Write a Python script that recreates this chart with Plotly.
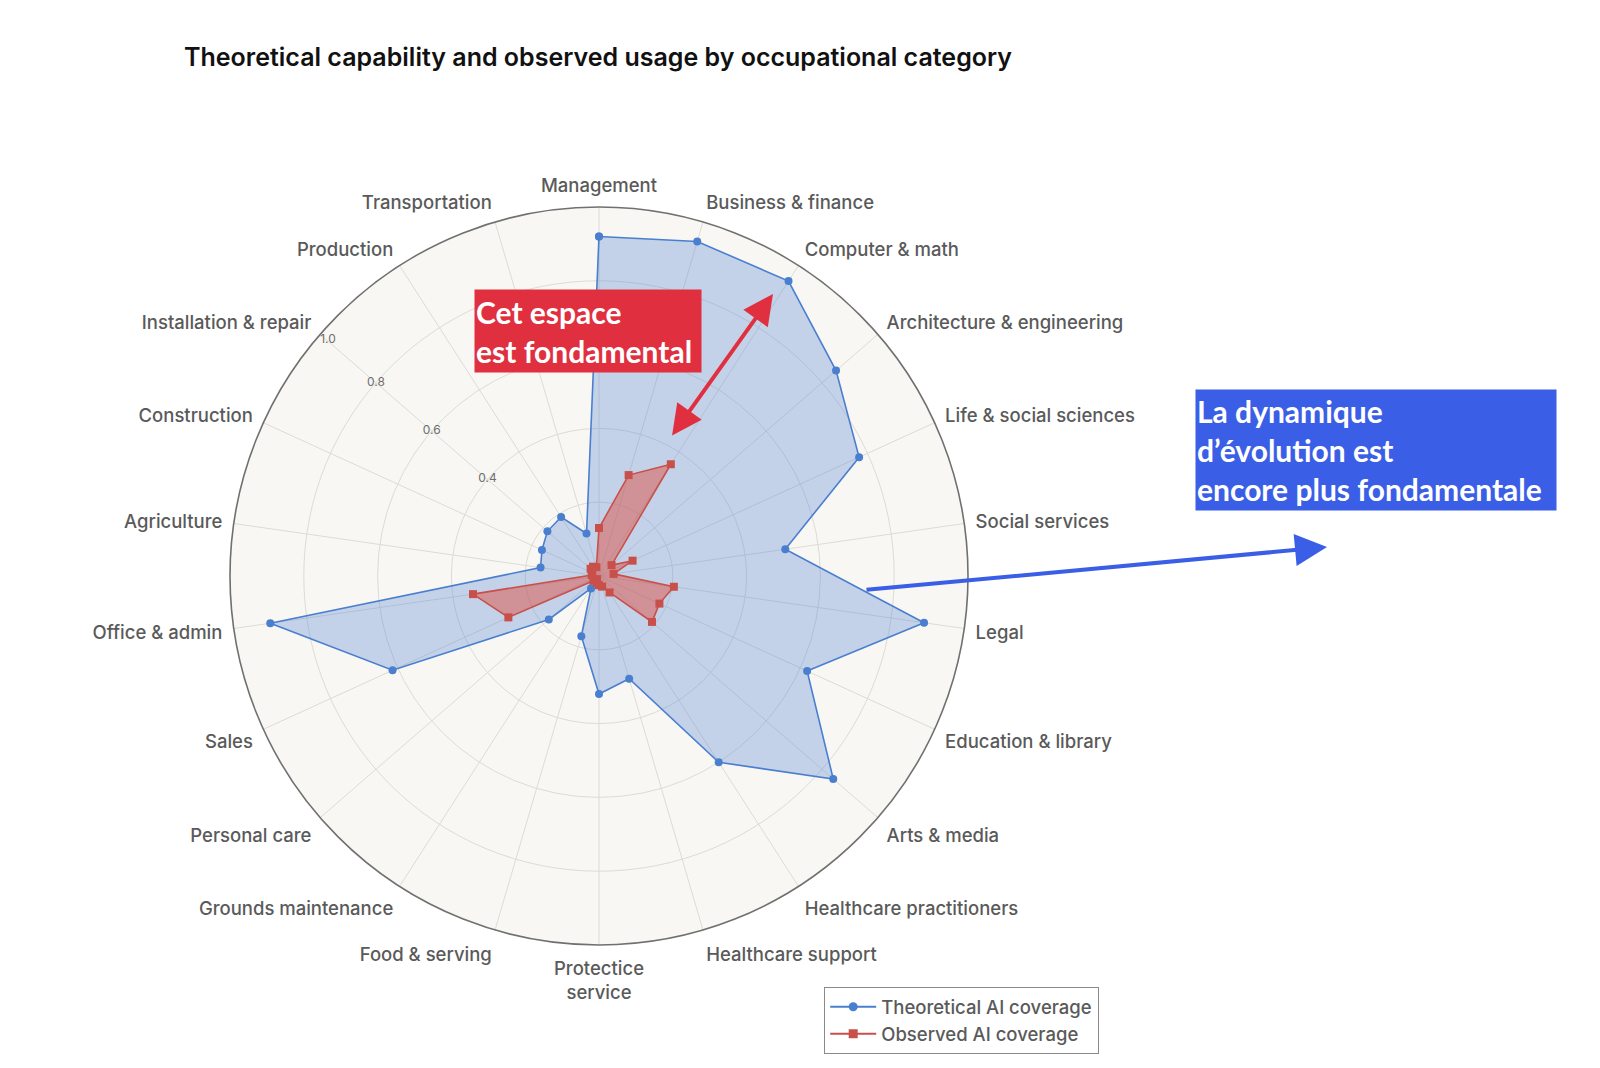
import plotly.graph_objects as go

categories = [
    "Management", "Business & finance", "Computer & math", "Architecture & engineering",
    "Life & social sciences", "Social services", "Legal", "Education & library",
    "Arts & media", "Healthcare practitioners", "Healthcare support", "Protectice<br>service",
    "Food & serving", "Grounds maintenance", "Personal care", "Sales", "Office & admin",
    "Agriculture", "Construction", "Installation & repair", "Production", "Transportation",
]

theoretical = [0.92, 0.945, 0.95, 0.85, 0.775, 0.51, 0.89, 0.62, 0.84, 0.60, 0.29, 0.32,
               0.17, 0.04, 0.18, 0.615, 0.90, 0.16, 0.17, 0.185, 0.19, 0.12]
observed = [0.13, 0.285, 0.36, 0.045, 0.10, 0.04, 0.205, 0.18, 0.19, 0.053, 0.03, 0.025,
            0.02, 0.01, 0.02, 0.27, 0.345, 0.02, 0.02, 0.03, 0.03, 0.025]

radial_ticks = [0.2, 0.4, 0.6, 0.8, 1.0]
radial_labels = [0.4, 0.6, 0.8, 1.0]
radial_label_text = ["0.4", "0.6", "0.8", "1.0"]

W, H = 1600, 1068
BLUE = "#4a7fcf"
RED = "#c9504a"
FONT = "Inter"

fig = go.Figure()

fig.add_trace(go.Scatterpolar(
    r=theoretical + theoretical[:1], theta=categories + categories[:1],
    mode="lines+markers", fill="toself",
    fillcolor="rgba(74,127,207,0.30)",
    line=dict(color=BLUE, width=1.6),
    marker=dict(color=BLUE, size=8, symbol="circle"),
    showlegend=False, hoverinfo="skip",
))
fig.add_trace(go.Scatterpolar(
    r=observed + observed[:1], theta=categories + categories[:1],
    mode="lines+markers", fill="toself",
    fillcolor="rgba(220,86,76,0.52)",
    line=dict(color=RED, width=1.6),
    marker=dict(color=RED, size=8, symbol="square"),
    showlegend=False, hoverinfo="skip",
))
# radial tick labels drawn along the "Installation & repair" spoke
fig.add_trace(go.Scatterpolar(
    r=radial_labels, theta=["Installation & repair"] * len(radial_labels),
    mode="text", text=radial_label_text,
    textposition=["middle center", "middle center", "middle center", "bottom right"],
    textfont=dict(family=FONT, size=12, color="#6e6e6e"),
    showlegend=False, hoverinfo="skip",
))
# legend entries (line + marker only)
fig.add_trace(go.Scatterpolar(
    r=[None], theta=[None], mode="lines+markers", name="Theoretical AI coverage",
    line=dict(color=BLUE, width=2), marker=dict(color=BLUE, size=9, symbol="circle"),
))
fig.add_trace(go.Scatterpolar(
    r=[None], theta=[None], mode="lines+markers", name="Observed AI coverage",
    line=dict(color=RED, width=2), marker=dict(color=RED, size=9, symbol="square"),
))

cx, cy, R = 591, 568, 369
fig.update_layout(
    width=W, height=H,
    margin=dict(l=0, r=0, t=0, b=0),
    paper_bgcolor="white",
    font=dict(family=FONT, color="#555555"),
    title=dict(
        text="Theoretical capability and observed usage by occupational category",
        x=176 / W, xanchor="left", xref="paper",
        y=1 - 49 / H, yanchor="middle", yref="container",
        font=dict(family=FONT, size=25, color="#111111", weight=600),
    ),
    polar=dict(
        domain=dict(x=[(cx - R) / W, (cx + R) / W], y=[(H - cy - R) / H, (H - cy + R) / H]),
        bgcolor="#f8f7f3",
        radialaxis=dict(
            range=[0, 1], tickvals=radial_ticks, showticklabels=False, ticks="",
            showline=False, gridcolor="#dcdcd6", gridwidth=1,
        ),
        angularaxis=dict(
            rotation=90, direction="clockwise", type="category",
            categoryorder="array", categoryarray=categories,
            showline=True, linecolor="#707070", linewidth=1.6,
            gridcolor="#dcdcd6", gridwidth=1,
            ticks="outside", ticklen=7, tickcolor="rgba(0,0,0,0)",
            tickfont=dict(family=FONT, size=18.5, color="#5a5a5a", weight=500),
        ),
    ),
    legend=dict(
        x=816 / W, xanchor="left", y=1 - 979 / H, yanchor="top",
        bgcolor="white", bordercolor="#8a8a8a", borderwidth=1.2,
        font=dict(family=FONT, size=18.5, color="#5a5a5a", weight=500),
        itemwidth=46, tracegroupgap=0,
    ),
)

# red callout box
fig.add_annotation(
    xref="paper", yref="paper", x=466 / W, y=1 - 281 / H, xanchor="left", yanchor="top",
    text="<b>Cet espace<br>est fondamental</b>", showarrow=False, align="left",
    font=dict(family="Lato", size=30, color="white"),
    bgcolor="#e0303f", width=224, height=80, borderpad=1, valign="middle",
)
# red double-headed arrow
fig.add_annotation(
    xref="paper", yref="paper", x=765 / W, y=1 - 286 / H, ax=-102, ay=143,
    text="", showarrow=True, arrowhead=2, arrowside="end+start",
    arrowsize=1.5, arrowwidth=4, arrowcolor="#e0303f",
)
# blue callout box
fig.add_annotation(
    xref="paper", yref="paper", x=1187 / W, y=1 - 381 / H, xanchor="left", yanchor="top",
    text="<b>La dynamique<br>d’évolution est<br>encore plus fondamentale</b>",
    showarrow=False, align="left",
    font=dict(family="Lato", size=30, color="white"),
    bgcolor="#3a5ee6", width=358, height=118, borderpad=1, valign="middle",
)
# blue arrow
fig.add_annotation(
    xref="paper", yref="paper", x=1319 / W, y=1 - 539 / H, ax=-462, ay=43,
    text="", showarrow=True, arrowhead=2, arrowsize=1.6, arrowwidth=4,
    arrowcolor="#3a5ee6",
)

fig.write_html("out.html")
